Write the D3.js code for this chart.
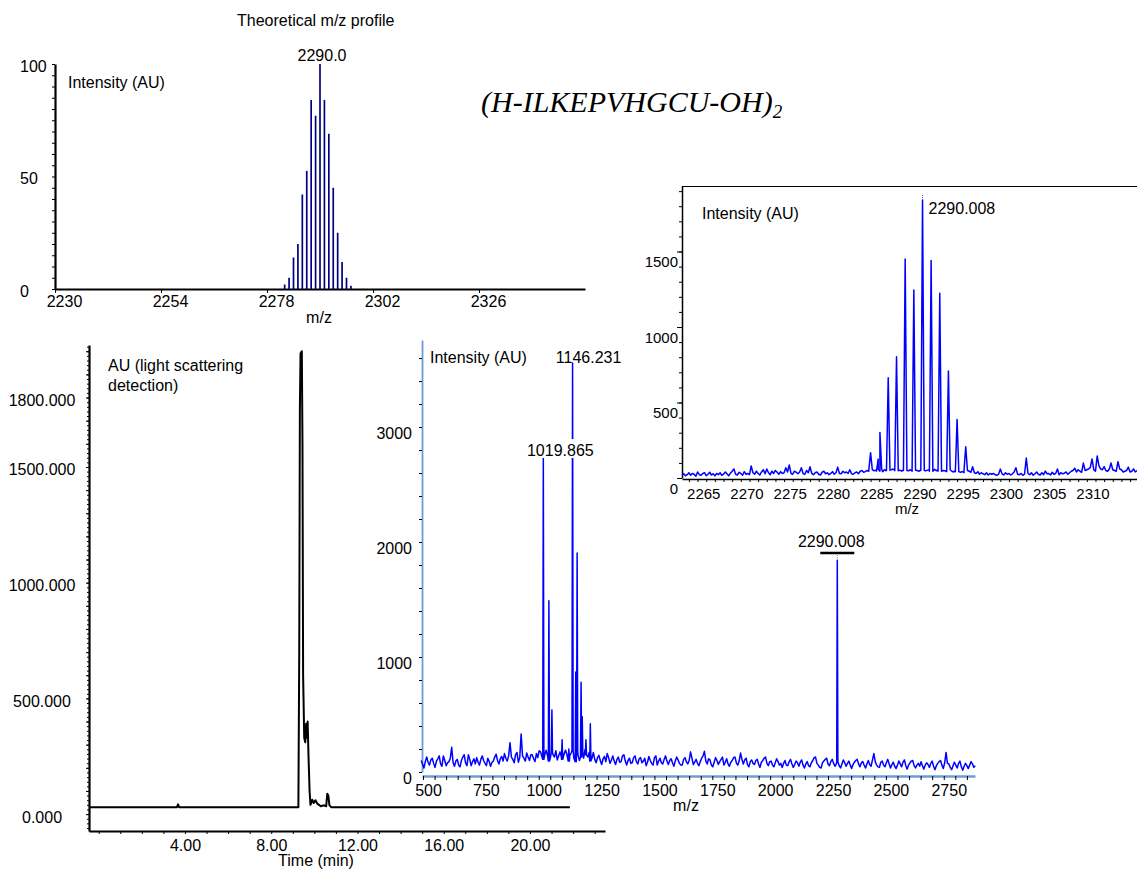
<!DOCTYPE html>
<html><head><meta charset="utf-8">
<script src="https://cdn.jsdelivr.net/npm/d3@7"></script>
<style>
body{margin:0;background:#fff}
svg{display:block}
text{font-family:"Liberation Sans",Arial,sans-serif;font-size:16px;fill:#000}
</style>
</head><body>
<svg id="c" width="1137" height="871"></svg>
<script>
// ---------- DATA ----------
// Theoretical isotope profile
const theoMz = [2282,2283,2284,2285,2286,2287,2288,2289,2290,2291,2292,2293,2294,2295,2296,2297];
const theoIntensity = [2,5,14,20,42,52.5,84,77,100,84,69,45,25,12,5,1.5];
const theoXTicks = [2230,2254,2278,2302,2326];
const theoYTicks = [0,50,100];

// Chromatogram (light scattering)
const chromTime = [-0.45,3.63,3.68,3.73,9.26,9.30,9.33,9.36,9.42,9.45,9.48,9.53,9.58,9.62,9.66,9.69,9.73,9.78,9.82,9.90,9.97,10.05,10.15,10.30,10.45,10.55,10.60,10.65,10.70,10.78,21.85];
const chromAU   = [30,30,42,30,30,700,1750,1990,2000,1600,600,330,310,390,330,400,250,100,40,62,48,60,44,34,38,34,88,80,38,30,30];
const chromXTicks = [4,8,12,16,20];
const chromYTicks = [0,500,1000,1500,1800];

// Full mass spectrum
const msNoiseStart = 492, msNoiseStep = 6;
const msNoise = [
 100,70,35,90,130,85,60,105,120,75,40,95,115,140,70,50,140,100,55,80,
 90,120,215,80,50,95,110,60,45,100,130,150,80,55,150,110,55,90,115,70,
 125,85,60,110,140,100,75,55,120,90,50,85,95,130,155,100,70,115,135,95,
 160,120,95,140,255,130,110,80,150,170,85,125,330,140,120,95,165,130,100,150,
 150,115,90,160,125,185,175,130,110,150,190,140,95,120,170,150,130,185,105,140,
 175,130,110,160,190,150,95,140,165,185,120,90,180,145,100,130,160,120,195,150,
 130,170,95,120,170,110,80,125,145,100,65,115,135,90,160,125,75,105,140,95,
 65,110,130,85,90,140,150,95,60,100,120,75,80,125,140,90,70,115,125,80,
 95,120,55,85,135,100,75,60,125,140,60,95,120,80,70,110,140,95,65,100,
 115,80,50,95,130,105,75,60,60,110,125,90,70,100,175,120,65,85,110,75,
 55,90,120,140,180,95,70,115,105,60,45,85,125,100,65,90,110,130,60,85,
 115,70,50,85,100,125,130,80,60,95,165,110,70,105,120,65,45,90,105,75,
 65,100,110,70,40,85,100,120,130,75,55,90,95,60,45,80,115,90,60,75,
 40,75,100,60,55,90,110,70,40,65,95,80,50,85,105,60,35,70,90,55,
 45,80,100,125,130,75,60,40,35,80,95,110,120,70,55,90,110,75,50,70,
 90,55,35,70,105,80,50,75,95,60,30,65,85,100,110,70,45,80,90,60,
 35,70,100,65,50,105,160,90,60,45,40,85,95,60,45,80,110,70,35,65,
 85,50,30,60,95,70,45,85,105,55,25,60,80,95,100,55,35,60,75,50,
 90,55,25,60,80,65,40,75,95,50,20,55,75,90,100,60,30,80,170,75,
 70,40,20,55,85,60,35,75,95,45,15,50,75,55,30,60,90,70,40,55];
const msPeakMz  = [1019.865,1044,1057,1101,1130,1146.231,1160,1166,1183,1188,1204,1223,2290.008];
const msPeakInt = [2730,1490,540,280,200,3557,870,1905,780,480,280,420,1840];
const msXTicks = [500,750,1000,1250,1500,1750,2000,2250,2500,2750];
const msYTicks = [0,1000,2000,3000];

// Zoomed isotope cluster (inset)
const insetNoiseStart = 2262.2, insetNoiseStep = 0.2;
const insetNoise = [
 20,28,15,22,35,18,30,25,12,40,22,18,30,35,15,25,38,20,28,14,
 30,22,35,18,25,40,28,15,32,45,60,25,20,38,30,18,42,25,30,22,
 80,35,25,45,30,20,40,55,28,60,35,22,45,30,50,38,25,42,30,35,
 68,40,86,30,25,45,38,28,40,68,30,25,50,35,75,30,22,35,40,25,
 20,38,45,28,35,22,30,42,25,35,72,30,28,45,35,40,30,55,28,25,
 35,40,28,45,50,38,42,50,45,55,40,48,52,45,60,50,42,55,48,52,
 45,55,60,50,48,58,52,45,55,50,60,48,55,45,52,58,50,45,55,50,
 60,48,52,55,45,50,58,48,55,45,52,50,48,42,55,50,45,40,50,42,
 45,38,42,35,50,40,45,38,75,35,30,42,25,35,28,22,35,20,30,25,
 30,22,18,25,60,28,20,35,25,30,20,28,40,68,25,22,30,18,25,132,
 30,22,35,18,28,40,25,20,35,22,45,28,30,20,38,25,30,60,22,35,
 28,32,40,25,35,45,50,65,40,55,45,38,99,50,55,60,70,126,55,45,
 146,80,60,55,75,50,45,60,99,55,50,45,108,60,55,40,45,50,72,40,
 45,60,40,50];
const insetPeakMz  = [2284.0,2284.88,2285.08,2286.04,2287.0,2288.0,2289.0,2290.008,2291.0,2292.0,2293.0,2294.0,2295.0];
const insetPeakInt = [168,125,302,664,803,1450,1245,1840,1440,1223,708,388,207];
const insetXTicks = [2265,2270,2275,2280,2285,2290,2295,2300,2305,2310];
const insetYTicks = [0,500,1000,1500];

// ---------- HELPERS ----------
const F = '"Liberation Sans", Arial, sans-serif';
const svg = d3.select("#c");
function styleAxis(g, size){ g.attr("font-family",F).attr("font-size",size||16); g.selectAll("text").attr("fill","#000").style("font-size",(size||16)+"px"); }
function buildProfile(start, step, noise, pm, pi, hw){
  let pts = noise.map((v,i)=>({m:start+i*step, v}));
  const base = m => noise[Math.max(0,Math.min(noise.length-1,Math.round((m-start)/step)))];
  pts = pts.filter(p => !pm.some(m => Math.abs(p.m-m) < hw));
  pm.forEach((m,i)=>{ const b=base(m); pts.push({m:m-hw,v:b},{m:m,v:pi[i]},{m:m+hw,v:b}); });
  pts.sort((a,b)=>a.m-b.m);
  return pts;
}

// ---------- CHROMATOGRAM ----------
{
  const x = d3.scaleLinear().domain([-0.45,23.48]).range([89,605]);
  const y = d3.scaleLinear().domain([-73,2027]).range([831,345]);
  const g = svg.append("g");
  g.append("g").attr("transform","translate(89,0)")
    .call(d3.axisLeft(y).tickValues(d3.range(-60,2021,20)).tickSize(2).tickSizeOuter(0).tickFormat(""))
    .call(a=>a.select(".domain").attr("stroke-width",2.2));
  g.append("g").attr("transform","translate(89,0)")
    .call(d3.axisLeft(y).tickValues(d3.range(0,2001,100)).tickSize(3).tickSizeOuter(0).tickFormat(""))
    .call(a=>a.select(".domain").remove());
  g.append("g").attr("transform","translate(89,0)")
    .call(d3.axisLeft(y).tickValues(chromYTicks).tickSize(0).tickFormat(d3.format(".3f")))
    .call(a=>styleAxis(a))
    .call(a=>{a.select(".domain").remove(); a.selectAll("text").attr("x",-47).attr("text-anchor","middle").attr("dy",0).attr("y",8);});
  g.append("g").attr("transform","translate(0,831)")
    .call(d3.axisBottom(x).tickValues(d3.range(0,23.1,1)).tickSize(3).tickSizeOuter(0).tickFormat(""))
    .call(a=>a.select(".domain").attr("stroke-width",2.2));
  g.append("g").attr("transform","translate(0,831)")
    .call(d3.axisBottom(x).tickValues(chromXTicks).tickSize(0).tickFormat(d3.format(".2f")))
    .call(a=>styleAxis(a))
    .call(a=>{a.select(".domain").remove(); a.selectAll("text").attr("dy",0).attr("y",20);});
  g.append("path").datum(chromTime.map((t,i)=>[t,chromAU[i]]))
    .attr("fill","none").attr("stroke","#000").attr("stroke-width",2).attr("stroke-linejoin","round")
    .attr("d", d3.line().x(d=>x(d[0])).y(d=>y(d[1])));
  g.append("text").attr("x",316).attr("y",866).attr("text-anchor","middle").text("Time (min)");
  g.append("text").attr("x",108).attr("y",371).text("AU (light scattering");
  g.append("text").attr("x",108).attr("y",391).text("detection)");
}

// ---------- FULL MASS SPECTRUM ----------
{
  const x = d3.scaleLinear().domain([495.7,2885]).range([422,975]);
  const y = d3.scaleLinear().domain([0,3757]).range([772,340]);
  const blue = "#6c9bd6";
  const g = svg.append("g");
  g.append("g").attr("transform","translate(422,0)")
    .call(d3.axisLeft(y).tickValues(d3.range(0,3757,200)).tickSize(3).tickSizeOuter(0).tickFormat(""))
    .call(a=>a.select(".domain").attr("stroke",blue).attr("stroke-width",1.8));
  g.append("g").attr("transform","translate(422,0)")
    .call(d3.axisLeft(y).tickValues(msYTicks).tickSize(0).tickFormat(d3.format("d")))
    .call(a=>styleAxis(a))
    .call(a=>{a.select(".domain").remove(); a.selectAll("text").attr("x",-10).attr("dy",0).attr("y",11);});
  g.append("g").attr("transform","translate(0,776)")
    .call(d3.axisBottom(x).tickValues(d3.range(500,2886,50)).tickSize(4).tickSizeOuter(0).tickFormat(""))
    .call(a=>a.select(".domain").attr("stroke",blue).attr("stroke-width",2.5));
  g.append("g").attr("transform","translate(0,776)")
    .call(d3.axisBottom(x).tickValues(msXTicks).tickSize(0).tickFormat(d3.format("d")))
    .call(a=>styleAxis(a))
    .call(a=>{a.select(".domain").remove(); a.selectAll("text").attr("dx",5).attr("dy",0).attr("y",20);});
  const prof = buildProfile(msNoiseStart,msNoiseStep,msNoise,msPeakMz,msPeakInt,2.5);
  g.append("path").datum(prof).attr("fill","none").attr("stroke","#0000ff").attr("stroke-width",1.5)
    .attr("stroke-linejoin","round").attr("d", d3.line().x(d=>x(d.m)).y(d=>y(d.v)));
  g.append("text").attr("x",686).attr("y",811).attr("text-anchor","middle").text("m/z");
  g.append("text").attr("x",430).attr("y",363).text("Intensity (AU)");
  // annotations
  const p1 = msPeakMz[0], p2 = msPeakMz[5], p3 = msPeakMz[12];
  g.append("rect").attr("x",x(p1)-16).attr("y",439).attr("width",67).attr("height",19).attr("fill","#fff");
  g.append("text").attr("x",x(p1)+17).attr("y",456).attr("text-anchor","middle").text(d3.format(".3f")(p1));
  g.append("text").attr("x",x(p2)+16).attr("y",363).attr("text-anchor","middle").text(d3.format(".3f")(p2));
  g.append("text").attr("x",x(p3)-6).attr("y",547).attr("text-anchor","middle").text(d3.format(".3f")(p3));
  g.append("line").attr("x1",x(p3)-17).attr("x2",x(p3)+17).attr("y1",553).attr("y2",553).attr("stroke","#000").attr("stroke-width",2.5);
  g.append("line").attr("x1",x(p3)).attr("x2",x(p3)).attr("y1",555).attr("y2",y(msPeakInt[12])).attr("stroke","#888").attr("stroke-width",1).attr("stroke-dasharray","1,1");
}

// ---------- INSET ----------
{
  const x = d3.scaleLinear().domain([2262.2,2314.8]).range([682,1137]);
  const y = d3.scaleLinear().domain([0,1934]).range([478,186]);
  const g = svg.append("g");
  g.append("rect").attr("x",682).attr("y",186).attr("width",455).attr("height",330).attr("fill","#fff");
  g.append("line").attr("x1",682).attr("x2",1137).attr("y1",186.5).attr("y2",186.5).attr("stroke","#000").attr("stroke-width",1.2);
  g.append("g").attr("transform","translate(682,0)")
    .call(d3.axisLeft(y).tickValues(d3.range(0,1934,100)).tickSize(3).tickSizeOuter(0).tickFormat(""))
    .call(a=>a.select(".domain").attr("stroke-width",1.5));
  g.append("g").attr("transform","translate(682,0)")
    .call(d3.axisLeft(y).tickValues(insetYTicks).tickSize(5).tickSizeOuter(0).tickFormat(d3.format("d")))
    .call(a=>styleAxis(a,15))
    .call(a=>{a.select(".domain").remove(); a.selectAll("text").attr("x",-4).attr("dy",0).attr("y",15);});
  g.append("g").attr("transform","translate(0,479)")
    .call(d3.axisBottom(x).tickValues(d3.range(2263,2315,1)).tickSize(3).tickSizeOuter(0).tickFormat(""))
    .call(a=>a.select(".domain").attr("stroke-width",1.5));
  g.append("g").attr("transform","translate(0,479)")
    .call(d3.axisBottom(x).tickValues(insetXTicks).tickSize(0).tickFormat(d3.format("d")))
    .call(a=>styleAxis(a,15))
    .call(a=>{a.select(".domain").remove(); a.selectAll("text").attr("dx",-3).attr("dy",0).attr("y",20);});
  const prof = buildProfile(insetNoiseStart,insetNoiseStep,insetNoise,insetPeakMz,insetPeakInt,0.2);
  g.append("path").datum(prof).attr("fill","none").attr("stroke","#0000ff").attr("stroke-width",1.5)
    .attr("stroke-linejoin","round").attr("d", d3.line().x(d=>x(d.m)).y(d=>y(d.v)));
  g.append("text").attr("x",907).attr("y",514).attr("text-anchor","middle").style("font-size","15px").text("m/z");
  g.append("text").attr("x",702).attr("y",219).text("Intensity (AU)");
  const pk = insetPeakMz[7];
  g.append("line").attr("x1",x(pk)).attr("x2",x(pk)).attr("y1",195).attr("y2",y(insetPeakInt[7])).attr("stroke","#555").attr("stroke-width",1).attr("stroke-dasharray","1,1");
  g.append("text").attr("x",x(pk)+6).attr("y",214).text(d3.format(".3f")(pk));
}

// ---------- THEORETICAL PROFILE ----------
{
  const x = d3.scaleLinear().domain([2230,2350]).range([55,585]);
  const y = d3.scaleLinear().domain([0,100]).range([289,64]);
  const g = svg.append("g");
  g.append("g").attr("transform","translate(55,0)")
    .call(d3.axisLeft(y).tickValues(d3.range(0,101,5)).tickSize(3).tickSizeOuter(0).tickFormat(""))
    .call(a=>a.select(".domain").attr("stroke-width",2.2));
  g.append("g").attr("transform","translate(55,0)")
    .call(d3.axisLeft(y).tickValues(theoYTicks).tickSize(0).tickFormat(d3.format("d")))
    .call(a=>styleAxis(a))
    .call(a=>{a.select(".domain").remove(); a.selectAll("text").attr("x",-35).attr("text-anchor","start").attr("dy",0).attr("y",7);});
  g.append("g").attr("transform","translate(0,289)")
    .call(d3.axisBottom(x).tickValues(theoXTicks).tickSize(4).tickSizeOuter(0).tickFormat(d3.format("d")))
    .call(a=>styleAxis(a))
    .call(a=>{a.select(".domain").attr("stroke-width",2.2); a.selectAll("text").attr("dx",9).attr("dy",0).attr("y",18);});
  g.selectAll("line.bar").data(theoMz).join("line").attr("class","bar")
    .attr("x1",d=>x(d)).attr("x2",d=>x(d)).attr("y1",y(0)).attr("y2",(d,i)=>y(theoIntensity[i]))
    .attr("stroke","#000080").attr("stroke-width",1.7);
  g.append("text").attr("x",237).attr("y",26).text("Theoretical m/z profile");
  g.append("text").attr("x",68).attr("y",88).text("Intensity (AU)");
  const imax = theoIntensity.indexOf(d3.max(theoIntensity));
  g.append("text").attr("x",x(theoMz[imax])+2).attr("y",61).attr("text-anchor","middle").text(d3.format(".1f")(theoMz[imax]));
  g.append("text").attr("x",319).attr("y",323).attr("text-anchor","middle").text("m/z");
}

// ---------- TITLE ----------
{
  const t = svg.append("text").attr("x",481).attr("y",112)
    .style("font-family",'"Liberation Serif","Times New Roman",serif').style("font-style","italic").style("font-size","30px");
  t.append("tspan").text("(H-ILKEPVHGCU-OH)");
  t.append("tspan").attr("dy",6).style("font-size","19px").text("2");
}
</script>
</body></html>
